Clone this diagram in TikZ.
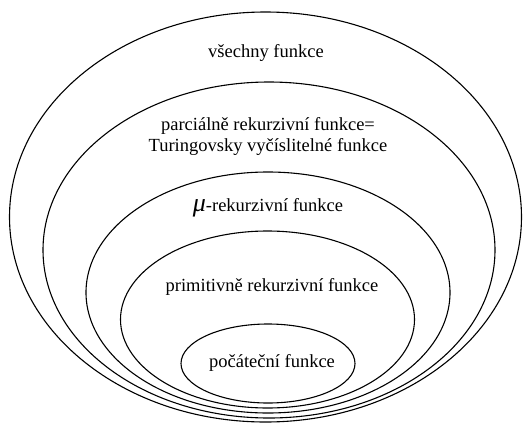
\documentclass[tikz,border=0pt]{standalone}
\usepackage{fontspec}
\setmainfont{Liberation Serif}
\begin{document}
\begin{tikzpicture}[x=1pt,y=-1pt,
  ring/.style={draw=black,line width=1.1pt},
  lbl/.style={font=\rmfamily\fontsize{18.5}{21}\selectfont,align=center,inner sep=0pt}]
\useasboundingbox (0,0) rectangle (531,424);
\draw[ring] (265.5,217) ellipse [x radius=256, y radius=205];
\draw[ring] (269,250) ellipse [x radius=226, y radius=168];
\draw[ring] (268,292.5) ellipse [x radius=182, y radius=120.5];
\draw[ring] (267.5,319.5) ellipse [x radius=147, y radius=88.5];
\draw[ring] (268,363.5) ellipse [x radius=87, y radius=39.5];
\node[lbl] (a) at (266,53) {všechny funkce};
\node[lbl] (b) at (268,136) {parciálně rekurzivní funkce=\\Turingovsky vyčíslitelné funkce};
\node[lbl] (c) at (268,208) {{\fontsize{26}{26}\selectfont\itshape μ}-rekurzivní funkce};
\node[lbl] (d) at (272,287) {primitivně rekurzivní funkce};
\node[lbl] (e) at (272,363) {počáteční funkce};
\end{tikzpicture}
\end{document}
